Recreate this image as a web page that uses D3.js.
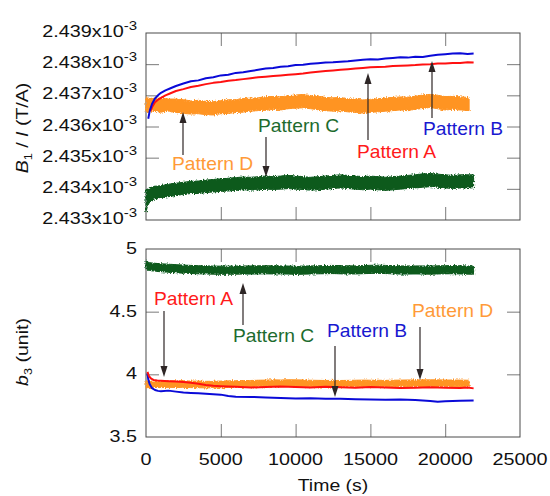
<!DOCTYPE html>
<html>
<head>
<meta charset="utf-8">
<script src="https://cdn.jsdelivr.net/npm/d3@7"></script>
<style>
  body { margin: 0; background: #fff; }
  svg { display: block; }
  text { font-family: "Liberation Sans", Arial, sans-serif; fill: #111; }
  .tick line { stroke: #7a7a7a; }
</style>
</head>
<body>
<div id="chart"></div>
<script>
// ---- data ----
// top panel: B1/I in units of 1e-3 T/A ; bottom panel: b3 in units
const timeTicks = [0, 5000, 10000, 15000, 20000, 25000];
const topTicks = [2.433, 2.434, 2.435, 2.436, 2.437, 2.438, 2.439];
const botTicks = [3.5, 4, 4.5, 5];

// Pattern A (red) top, [time, value]
const topA = [[300,2.43650],[450,2.43666],[600,2.43678],[800,2.43686],[1000,2.43692],[1300,2.43700],[1600,2.43706],[2000,2.43714],[2500,2.43720],[3000,2.43727],[3500,2.43731],[4000,2.43736],[4500,2.43740],[5000,2.43743],[5500,2.43747],[6000,2.43749],[6500,2.43752],[7000,2.43755],[7500,2.43758],[8000,2.43760],[8500,2.43762],[9000,2.43764],[9500,2.43766],[10000,2.43768],[10500,2.43770],[11000,2.43773],[11500,2.43776],[12000,2.43778],[12500,2.43780],[13000,2.43782],[13500,2.43784],[14000,2.43786],[14500,2.43788],[15000,2.43790],[15500,2.43791],[16000,2.43792],[16500,2.43794],[17000,2.43795],[17500,2.43796],[18000,2.43797],[18500,2.43799],[19000,2.43800],[19500,2.43802],[20000,2.43802],[20500,2.43804],[21000,2.43804],[21500,2.43806],[21900,2.43805]];

// Pattern B (blue) top
const topB = [[150,2.43625],[250,2.43650],[400,2.43672],[600,2.43690],[800,2.43700],[1000,2.43708],[1300,2.43716],[1600,2.43722],[2000,2.43730],[2500,2.43738],[3000,2.43745],[3500,2.43748],[4000,2.43755],[4500,2.43758],[5000,2.43764],[5500,2.43766],[6000,2.43772],[6500,2.43774],[7000,2.43778],[7500,2.43782],[8000,2.43786],[8500,2.43788],[9000,2.43792],[9500,2.43793],[10000,2.43797],[10500,2.43798],[11000,2.43801],[11500,2.43803],[12000,2.43805],[12500,2.43806],[13000,2.43808],[13500,2.43809],[14000,2.43812],[14500,2.43814],[15000,2.43816],[15500,2.43815],[16000,2.43818],[16500,2.43820],[17000,2.43822],[17500,2.43821],[18000,2.43824],[18500,2.43823],[19000,2.43827],[19500,2.43830],[20000,2.43832],[20500,2.43834],[21000,2.43835],[21500,2.43833],[21900,2.43834]];

// Pattern C (green) top, noisy band [time, low, high]
const topC = [[0,2.43325,2.43398],[100,2.43345,2.43401],[250,2.43358,2.43402],[500,2.43366,2.43408],[1000,2.43372,2.43410],[1500,2.43375,2.43415],[2000,2.43379,2.43418],[2500,2.43382,2.43421],[3000,2.43385,2.43424],[3500,2.43385,2.43425],[4000,2.43388,2.43428],[4500,2.43390,2.43430],[5000,2.43392,2.43432],[5500,2.43393,2.43434],[6000,2.43395,2.43436],[6500,2.43397,2.43438],[7000,2.43396,2.43437],[7500,2.43397,2.43439],[8000,2.43399,2.43441],[8500,2.43398,2.43439],[9000,2.43399,2.43441],[9500,2.43401,2.43443],[10000,2.43399,2.43441],[10500,2.43398,2.43439],[11000,2.43396,2.43437],[11500,2.43397,2.43439],[12000,2.43399,2.43441],[12500,2.43401,2.43443],[13000,2.43403,2.43445],[13500,2.43401,2.43443],[14000,2.43399,2.43441],[14500,2.43397,2.43439],[15000,2.43399,2.43441],[15500,2.43397,2.43439],[16000,2.43395,2.43437],[16500,2.43397,2.43439],[17000,2.43399,2.43441],[17500,2.43401,2.43443],[18000,2.43403,2.43445],[18500,2.43405,2.43448],[19000,2.43407,2.43449],[19500,2.43405,2.43447],[20000,2.43403,2.43445],[20500,2.43401,2.43443],[21000,2.43403,2.43445],[21900,2.43403,2.43445]];

// Pattern D (orange) top, noisy band
const topD = [[0,2.43648,2.43692],[500,2.43650,2.43690],[1000,2.43646,2.43691],[1500,2.43649,2.43688],[2000,2.43645,2.43688],[2500,2.43642,2.43686],[3000,2.43640,2.43682],[3500,2.43641,2.43684],[4000,2.43638,2.43681],[4500,2.43637,2.43680],[5000,2.43641,2.43683],[5500,2.43642,2.43686],[6000,2.43645,2.43686],[6500,2.43646,2.43690],[7000,2.43649,2.43691],[7500,2.43651,2.43692],[8000,2.43652,2.43696],[8500,2.43655,2.43696],[9000,2.43653,2.43695],[9500,2.43657,2.43699],[10000,2.43659,2.43701],[10500,2.43660,2.43703],[11000,2.43657,2.43699],[11500,2.43654,2.43698],[12000,2.43651,2.43693],[12500,2.43649,2.43692],[13000,2.43650,2.43693],[13500,2.43647,2.43689],[14000,2.43645,2.43688],[14500,2.43643,2.43685],[15000,2.43645,2.43687],[15500,2.43647,2.43689],[16000,2.43649,2.43692],[16500,2.43651,2.43693],[17000,2.43653,2.43695],[17500,2.43651,2.43694],[18000,2.43655,2.43697],[18500,2.43658,2.43701],[19000,2.43661,2.43703],[19500,2.43657,2.43700],[20000,2.43653,2.43696],[20500,2.43655,2.43697],[21000,2.43653,2.43695],[21600,2.43651,2.43693]];

// bottom panel
const botA = [[100,4.020],[200,3.985],[350,3.965],[500,3.955],[750,3.950],[1000,3.948],[1500,3.945],[2000,3.942],[2500,3.938],[3000,3.932],[3500,3.925],[4000,3.915],[4500,3.908],[5000,3.905],[6000,3.900],[7000,3.895],[8000,3.898],[9000,3.902],[10000,3.898],[11000,3.895],[12000,3.900],[13000,3.896],[14000,3.893],[15000,3.898],[16000,3.895],[17000,3.890],[18000,3.893],[19000,3.896],[20000,3.892],[21000,3.890],[21500,3.895],[21900,3.888]];

const botB = [[100,4.010],[150,3.960],[250,3.920],[400,3.890],[600,3.875],[800,3.868],[1000,3.865],[1500,3.870],[2000,3.862],[2500,3.855],[3000,3.852],[3500,3.850],[4000,3.846],[4500,3.842],[5000,3.838],[5500,3.828],[6000,3.822],[7000,3.820],[8000,3.816],[9000,3.812],[10000,3.808],[11000,3.810],[12000,3.805],[13000,3.806],[14000,3.802],[15000,3.800],[16000,3.798],[17000,3.800],[18000,3.795],[19000,3.788],[19500,3.782],[20000,3.785],[21000,3.790],[21900,3.792]];

const botC = [[0,4.838,4.905],[100,4.832,4.896],[250,4.828,4.891],[500,4.824,4.887],[1000,4.819,4.882],[1500,4.815,4.879],[2000,4.811,4.875],[2500,4.807,4.872],[3000,4.805,4.869],[3500,4.802,4.867],[4000,4.801,4.865],[4500,4.799,4.864],[5000,4.798,4.863],[5500,4.798,4.863],[6000,4.799,4.864],[6500,4.800,4.865],[7000,4.800,4.865],[7500,4.801,4.866],[8000,4.802,4.866],[8500,4.801,4.866],[9000,4.801,4.865],[9500,4.800,4.864],[10000,4.797,4.862],[10500,4.799,4.864],[11000,4.801,4.865],[11500,4.802,4.866],[12000,4.803,4.868],[12500,4.804,4.869],[13000,4.802,4.867],[13500,4.801,4.866],[14000,4.801,4.865],[14500,4.803,4.867],[15000,4.805,4.870],[15500,4.806,4.871],[16000,4.804,4.869],[16500,4.802,4.867],[17000,4.800,4.865],[17500,4.800,4.865],[18000,4.801,4.865],[18500,4.800,4.865],[19000,4.799,4.864],[19500,4.801,4.866],[20000,4.802,4.867],[20500,4.803,4.868],[21000,4.801,4.866],[21900,4.798,4.863]];

const botD = [[0,3.893,3.945],[500,3.895,3.947],[1000,3.894,3.946],[1500,3.896,3.948],[2000,3.895,3.948],[2500,3.896,3.949],[3000,3.894,3.946],[3500,3.893,3.946],[4000,3.892,3.944],[4500,3.893,3.945],[5000,3.893,3.946],[5500,3.895,3.948],[6000,3.896,3.949],[6500,3.897,3.950],[7000,3.898,3.951],[7500,3.900,3.953],[8000,3.901,3.954],[8500,3.903,3.956],[9000,3.902,3.955],[9500,3.904,3.957],[10000,3.903,3.956],[10500,3.902,3.955],[11000,3.900,3.953],[11500,3.899,3.952],[12000,3.898,3.951],[12500,3.899,3.952],[13000,3.898,3.951],[13500,3.899,3.952],[14000,3.900,3.953],[14500,3.901,3.954],[15000,3.900,3.953],[15500,3.900,3.953],[16000,3.899,3.952],[16500,3.900,3.953],[17000,3.901,3.954],[17500,3.902,3.955],[18000,3.902,3.955],[18500,3.903,3.956],[19000,3.903,3.956],[19500,3.903,3.956],[20000,3.901,3.954],[20500,3.902,3.955],[21000,3.901,3.954],[21600,3.900,3.953]];

// annotation labels: [text, colour key, label x, label baseline, arrow x, arrow from y, arrow to y]
const topNotes = [
  ["Pattern C", "C", 258, 132, 266, 137, 177],
  ["Pattern D", "D", 172, 170, 183, 155, 112],
  ["Pattern A", "A", 357, 158, 368, 140, 73],
  ["Pattern B", "B", 423, 135, 432, 118, 61]
];
const botNotes = [
  ["Pattern A", "A", 154, 305, 164, 311, 377],
  ["Pattern C", "C", 233, 342, 243, 325, 283],
  ["Pattern B", "B", 327, 337, 335, 346, 397],
  ["Pattern D", "D", 412, 317, 420, 327, 380]
];

const lineCol = { A: "#ff1010", B: "#0a0ad8", C: "#0c5a1e", D: "#ff9424" };
const textCol = { A: "#ff1a1a", B: "#1818d0", C: "#1d6b2e", D: "#ff9a38" };

// ---- layout ----
const W = 550, H = 496;
const svg = d3.select("#chart").append("svg").attr("width", W).attr("height", H);

// slight fuzz on the noisy bands
const flt = svg.append("defs").append("filter").attr("id", "fuzz")
  .attr("x", "-2%").attr("y", "-30%").attr("width", "104%").attr("height", "160%");
flt.append("feTurbulence").attr("type", "fractalNoise")
  .attr("baseFrequency", "0.9 0.6").attr("numOctaves", 2).attr("seed", 3).attr("result", "n");
flt.append("feDisplacementMap").attr("in", "SourceGraphic").attr("in2", "n")
  .attr("scale", 4).attr("xChannelSelector", "R").attr("yChannelSelector", "G");

const x = d3.scaleLinear().domain([0, 25000]).range([146, 520]);
const yTop = d3.scaleLinear().domain([2.433, 2.439]).range([220, 33]);
const yBot = d3.scaleLinear().domain([3.5, 5]).range([437, 249]);

const SX = 1.2; // text in the figure is horizontally stretched

function stretchedText(g, tx, ty, anchor, size, sx, rot) {
  return g.append("text")
    .attr("transform", `translate(${tx},${ty})` + (rot ? ` rotate(${rot})` : "") + ` scale(${sx},1)`)
    .attr("text-anchor", anchor)
    .style("font-size", size + "px");
}

// frame + ticks for one panel
function panel(y, yTickVals) {
  const g = svg.append("g");
  const top = y.range()[1], bot = y.range()[0];
  const inner = [5000, 10000, 15000, 20000];

  g.append("g").attr("transform", `translate(0,${bot})`)
    .call(d3.axisBottom(x).tickValues(inner).tickSize(-13).tickFormat(""))
    .call(a => a.select(".domain").remove());
  g.append("g").attr("transform", `translate(0,${top})`)
    .call(d3.axisTop(x).tickValues(inner).tickSize(-13).tickFormat(""))
    .call(a => a.select(".domain").remove());
  g.append("g").attr("transform", `translate(${x(0)},0)`)
    .call(d3.axisLeft(y).tickValues(yTickVals).tickSize(-13).tickFormat(""))
    .call(a => a.select(".domain").remove());
  g.append("g").attr("transform", `translate(${x(25000)},0)`)
    .call(d3.axisRight(y).tickValues(yTickVals).tickSize(-13).tickFormat(""))
    .call(a => a.select(".domain").remove());

  g.append("rect")
    .attr("x", x(0)).attr("y", top)
    .attr("width", x(25000) - x(0)).attr("height", bot - top)
    .attr("fill", "none").attr("stroke", "#4a4a4a").attr("stroke-width", 1);
  return g;
}

const gTop = panel(yTop, topTicks.slice(1, -1));
const gBot = panel(yBot, botTicks.slice(1, -1));

// ---- data marks ----
const band = (y) => d3.area().x(d => x(d[0])).y0(d => y(d[1])).y1(d => y(d[2]));
const line = (y) => d3.line().x(d => x(d[0])).y(d => y(d[1]));

function drawBand(g, data, y, col) {
  g.append("path").datum(data).attr("d", band(y))
    .attr("fill", col).attr("stroke", col).attr("stroke-width", 1)
    .attr("filter", "url(#fuzz)");
}
function drawLine(g, data, y, col) {
  g.append("path").datum(data).attr("d", line(y))
    .attr("fill", "none").attr("stroke", col).attr("stroke-width", 2)
    .attr("stroke-linejoin", "round");
}

const marksTop = svg.append("g");
drawBand(marksTop, topD, yTop, lineCol.D);
drawBand(marksTop, topC, yTop, lineCol.C);
drawLine(marksTop, topA, yTop, lineCol.A);
drawLine(marksTop, topB, yTop, lineCol.B);

const marksBot = svg.append("g");
drawBand(marksBot, botC, yBot, lineCol.C);
drawBand(marksBot, botD, yBot, lineCol.D);
drawLine(marksBot, botB, yBot, lineCol.B);
drawLine(marksBot, botA, yBot, lineCol.A);

// ---- tick labels ----
topTicks.forEach(v => {
  const t = stretchedText(svg, 137, yTop(v) + 4, "end", 16.5, SX, 0);
  t.append("tspan").text(v.toFixed(3) + "x10");
  t.append("tspan").attr("dy", -7).style("font-size", "12.5px").text("-3");
});
botTicks.forEach(v => {
  stretchedText(svg, 137, yBot(v) + 5, "end", 16.5, SX, 0).text(d3.format("")(v));
});
timeTicks.forEach(v => {
  stretchedText(svg, x(v), 465, "middle", 16.5, SX, 0).text(v);
});

// axis titles
stretchedText(svg, (x(0) + x(25000)) / 2, 491, "middle", 16.5, 1.18, 0).text("Time (s)");

const yl1 = stretchedText(svg, 28, 128, "middle", 17, 1.15, -90);
yl1.append("tspan").style("font-style", "italic").text("B");
yl1.append("tspan").attr("dy", 4).style("font-size", "11px").text("1");
yl1.append("tspan").attr("dy", -4).text(" / ");
yl1.append("tspan").style("font-style", "italic").text("I");
yl1.append("tspan").text(" (T/A)");

const yl2 = stretchedText(svg, 28, 352, "middle", 17, 1.15, -90);
yl2.append("tspan").style("font-style", "italic").text("b");
yl2.append("tspan").attr("dy", 4).style("font-size", "11px").text("3");
yl2.append("tspan").attr("dy", -4).text(" (unit)");

// ---- annotations with arrows ----
function arrow(g, ax, y0, y1) {
  const dir = y1 > y0 ? 1 : -1;
  g.append("line")
    .attr("x1", ax).attr("x2", ax).attr("y1", y0).attr("y2", y1 - dir * 9)
    .attr("stroke", "#2e2626").attr("stroke-width", 1.2);
  g.append("path")
    .attr("d", `M${ax},${y1} L${ax - 3.5},${y1 - dir * 11} L${ax + 3.5},${y1 - dir * 11} Z`)
    .attr("fill", "#2e2626");
}

function notes(list) {
  const g = svg.append("g");
  list.forEach(n => {
    const [label, key, lx, ly, ax, y0, y1] = n;
    arrow(g, ax, y0, y1);
    stretchedText(g, lx, ly, "start", 17.5, 1.1, 0)
      .style("fill", textCol[key]).text(label);
  });
}
notes(topNotes);
notes(botNotes);
</script>
</body>
</html>
